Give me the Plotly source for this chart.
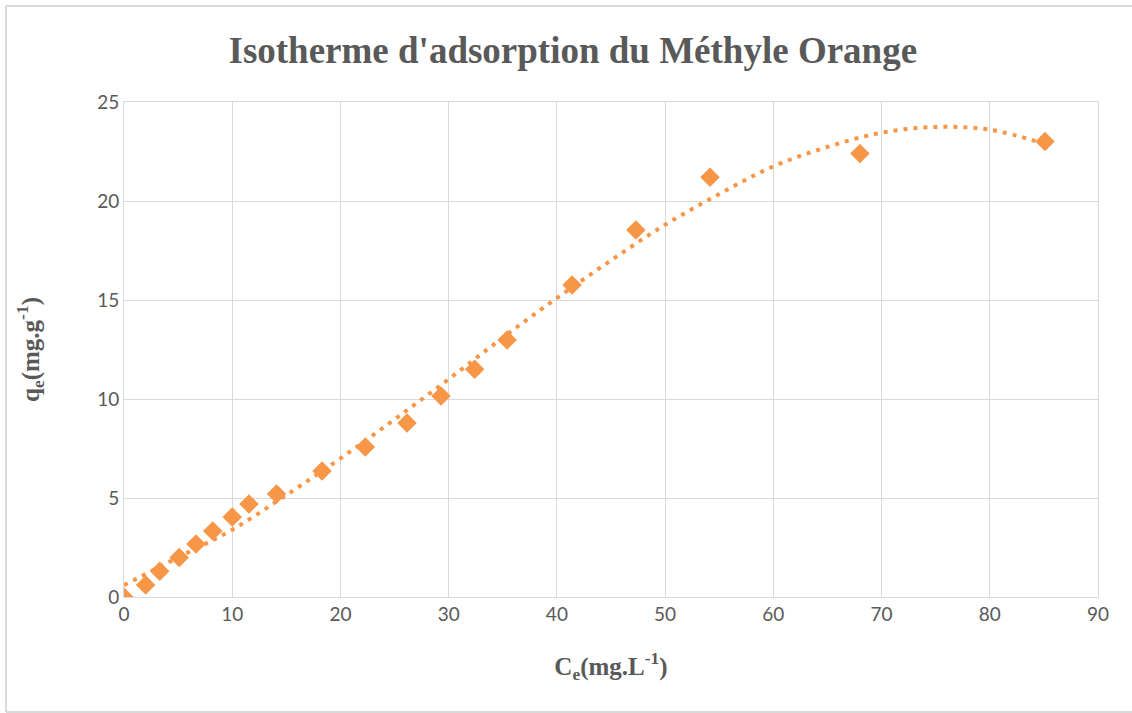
import plotly.graph_objects as go

# measured points (Ce, qe)
ce = [0, 2.0, 3.3, 5.1, 6.65, 8.2, 10.0, 11.55, 14.1, 18.3, 22.3, 26.15, 29.3,
      32.4, 35.4, 41.4, 47.3, 54.15, 68.0, 85.1]
qe = [0, 0.6, 1.3, 2.0, 2.68, 3.33, 4.04, 4.7, 5.2, 6.36, 7.58, 8.79, 10.15,
      11.5, 12.98, 15.76, 18.54, 21.2, 22.4, 23.0]

# trendline
trend_x = [0, 5, 10, 15, 20, 25, 30, 35, 40, 45, 50, 55, 60, 65, 70, 75, 80, 85]
trend_y = [0.6, 2.0, 3.4, 5.15, 7.0, 8.97, 11.0, 13.1, 15.1, 17.0, 18.8, 20.35,
           21.75, 22.73, 23.45, 23.74, 23.6, 22.9]

orange = "#F79646"
grey_txt = "#595959"
grid = "#D9D9D9"

fig = go.Figure()
fig.add_trace(go.Scatter(
    x=trend_x, y=trend_y, mode="lines",
    line=dict(color=orange, width=4, dash="4px,6px", shape="spline"),
    hoverinfo="skip",
))
fig.add_trace(go.Scatter(
    x=ce, y=qe, mode="markers",
    marker=dict(symbol="diamond", size=15, color=orange),
))

fig.update_layout(
    width=1132, height=713,
    margin=dict(l=124, r=34, t=102, b=116),
    paper_bgcolor="white", plot_bgcolor="white",
    showlegend=False,
    title=dict(
        text="<b>Isotherme d'adsorption du Méthyle Orange</b>",
        x=0.506, xref="container", y=0.93, yanchor="middle",
        font=dict(family="Liberation Serif", size=37, color=grey_txt),
    ),
    font=dict(family="Lato", size=19, color=grey_txt),
)
fig.update_xaxes(
    range=[0, 90], dtick=10, showgrid=True, gridcolor=grid, gridwidth=1,
    showline=True, linecolor=grid, mirror=True, zeroline=False,
    ticks="", tickfont=dict(size=19, color=grey_txt),
    title=dict(text="<b>C<sub>e</sub>(mg.L<sup>-1</sup>)</b>",
               font=dict(family="Liberation Serif", size=25, color=grey_txt),
               standoff=33),
)
fig.update_yaxes(
    range=[0, 25], dtick=5, showgrid=True, gridcolor=grid, gridwidth=1,
    showline=True, linecolor=grid, mirror=True, zeroline=False,
    ticks="", tickfont=dict(size=19, color=grey_txt),
    title=dict(text="<b>q<sub>e</sub>(mg.g<sup>-1</sup>)</b>",
               font=dict(family="Liberation Serif", size=25, color=grey_txt),
               standoff=50),
)

# chart-area border: left, top and bottom edges only
left, right, bottom, top = -0.1211, 1.035, -0.2323, 1.194
for x0, y0, x1, y1 in [(left, bottom, left, top), (left, top, right, top),
                       (left, bottom, right, bottom)]:
    fig.add_shape(type="line", xref="paper", yref="paper",
                  x0=x0, y0=y0, x1=x1, y1=y1,
                  line=dict(color=grid, width=2), layer="below")

fig.write_html("out.html", config={"displayModeBar": False},
               post_script="document.body.style.margin='0';"
                           "document.body.style.overflow='hidden';")
